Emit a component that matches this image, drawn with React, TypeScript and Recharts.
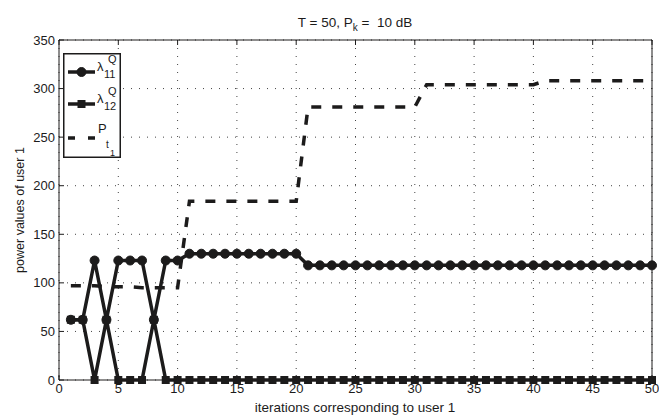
import { LineChart, Line, XAxis, YAxis, CartesianGrid, Legend } from 'recharts';

// Power allocation of user 1 over the iterations (T = 50, Pk = 10 dB)
const iterations = [
  1, 2, 3, 4, 5, 6, 7, 8, 9, 10,
  11, 12, 13, 14, 15, 16, 17, 18, 19, 20,
  21, 22, 23, 24, 25, 26, 27, 28, 29, 30,
  31, 32, 33, 34, 35, 36, 37, 38, 39, 40,
  41, 42, 43, 44, 45, 46, 47, 48, 49, 50,
];

const lambda11 = [
  62, 62, 123, 62, 123, 123, 123, 62, 123, 123,
  130, 130, 130, 130, 130, 130, 130, 130, 130, 130,
  118, 118, 118, 118, 118, 118, 118, 118, 118, 118,
  118, 118, 118, 118, 118, 118, 118, 118, 118, 118,
  118, 118, 118, 118, 118, 118, 118, 118, 118, 118,
];

const lambda12 = [
  62, 62, 0, 62, 0, 0, 0, 62, 0, 0,
  0, 0, 0, 0, 0, 0, 0, 0, 0, 0,
  0, 0, 0, 0, 0, 0, 0, 0, 0, 0,
  0, 0, 0, 0, 0, 0, 0, 0, 0, 0,
  0, 0, 0, 0, 0, 0, 0, 0, 0, 0,
];

const pt1 = [
  97, 97, 97, 96, 96, 96, 95, 95, 95, 95,
  184, 184, 184, 184, 184, 184, 184, 184, 184, 184,
  281, 281, 281, 281, 281, 281, 281, 281, 281, 281,
  304, 304, 304, 304, 304, 304, 304, 304, 304, 304,
  308, 308, 308, 308, 308, 308, 308, 308, 308, 308,
];

const xTicks = [0, 5, 10, 15, 20, 25, 30, 35, 40, 45, 50];
const yTicks = [0, 50, 100, 150, 200, 250, 300, 350];

const INK = '#1c1b1b';
const FONT = '"Liberation Sans", Arial, Helvetica, sans-serif';

const chartData = iterations.map((it, i) => ({
  it,
  lambda11: lambda11[i],
  lambda12: lambda12[i],
  pt1: pt1[i],
}));

const SquareDot = (props: any) => {
  const { cx, cy, key } = props;
  if (cx == null || cy == null) return null;
  return <rect key={key} x={cx - 4} y={cy - 4} width={8} height={8} fill={INK} />;
};

const NoLabel = () => null;

// Legend box with MATLAB-style sub/superscripts
const LegendBox = () => (
  <svg width={58} height={105} style={{ display: 'block', fontFamily: FONT }}>
    <rect x={0.75} y={0.75} width={56.5} height={103.5} fill="#fff" stroke={INK} strokeWidth={1.5} />

    <line x1={5} x2={32} y1={19} y2={19} stroke={INK} strokeWidth={3.5} />
    <circle cx={18.5} cy={19} r={4.5} fill={INK} stroke={INK} strokeWidth={1} />
    <text x={34} y={18} fontSize={13} fill={INK}>λ</text>
    <text x={45} y={10} fontSize={11} fill={INK}>Q</text>
    <text x={41} y={25} fontSize={11} fill={INK}>11</text>

    <line x1={5} x2={32} y1={51} y2={51} stroke={INK} strokeWidth={3.5} />
    <rect x={14.5} y={47} width={8} height={8} fill={INK} />
    <text x={34} y={50} fontSize={13} fill={INK}>λ</text>
    <text x={45} y={42} fontSize={11} fill={INK}>Q</text>
    <text x={41} y={57} fontSize={11} fill={INK}>12</text>

    <line x1={5} x2={32} y1={85} y2={85} stroke={INK} strokeWidth={3.5} strokeDasharray="7 13" />
    <text x={35} y={80} fontSize={13} fill={INK}>P</text>
    <text x={43} y={95} fontSize={10} fill={INK}>t</text>
    <text x={47} y={103} fontSize={9} fill={INK}>1</text>
  </svg>
);

const App = () => (
  <div style={{ position: 'absolute', left: 0, top: 0, background: '#fff' }}>
    <LineChart
      width={659}
      height={416}
      data={chartData}
      margin={{ top: 39, right: 6, bottom: 0, left: 0 }}
      style={{ fontFamily: FONT }}
    >
      <CartesianGrid stroke="#444" strokeDasharray="1 7" strokeWidth={1} />
      <XAxis
        dataKey="it"
        type="number"
        domain={[0, 50]}
        ticks={xTicks}
        height={36}
        tickSize={-5}
        tickMargin={9}
        stroke={INK}
        tick={{ fill: INK, fontSize: 13 }}
      />
      <XAxis
        xAxisId="top"
        orientation="top"
        dataKey="it"
        type="number"
        domain={[0, 50]}
        ticks={xTicks}
        height={1}
        tickSize={-5}
        stroke={INK}
        tick={NoLabel}
      />
      <YAxis
        type="number"
        domain={[0, 350]}
        ticks={yTicks}
        width={59}
        tickSize={-5}
        tickMargin={9}
        stroke={INK}
        tick={{ fill: INK, fontSize: 13 }}
      />
      <YAxis
        yAxisId="right"
        orientation="right"
        type="number"
        domain={[0, 350]}
        ticks={yTicks}
        width={1}
        tickSize={-5}
        stroke={INK}
        tick={NoLabel}
      />
      <Legend
        layout="vertical"
        align="center"
        verticalAlign="middle"
        content={LegendBox}
        wrapperStyle={{ left: 63, top: 53, width: 58, height: 105 }}
      />
      <Line
        dataKey="pt1"
        name="Pt1"
        stroke={INK}
        strokeWidth={3.5}
        strokeDasharray="10 11"
        dot={false}
        isAnimationActive={false}
      />
      <Line
        dataKey="lambda12"
        name="lambda12"
        stroke={INK}
        strokeWidth={3.5}
        dot={SquareDot}
        isAnimationActive={false}
      />
      <Line
        dataKey="lambda11"
        name="lambda11"
        stroke={INK}
        strokeWidth={3.5}
        dot={{ r: 4.5, fill: INK, stroke: INK, strokeWidth: 1 }}
        isAnimationActive={false}
      />
      <text x={355} y={27} textAnchor="middle" fontSize={13.5} fill={INK} style={{ whiteSpace: 'pre' }}>
        T = 50, P
        <tspan dy={4} fontSize={10}>k</tspan>
        <tspan dy={-4} fontSize={13.5}>{' =  10 dB'}</tspan>
      </text>
      <text x={355} y={412} textAnchor="middle" fontSize={13.5} fill={INK}>
        iterations corresponding to user 1
      </text>
      <text x={-210} y={24} transform="rotate(-90)" textAnchor="middle" fontSize={12.5} fill={INK}>
        power values of user 1
      </text>
    </LineChart>
  </div>
);

export default App;
